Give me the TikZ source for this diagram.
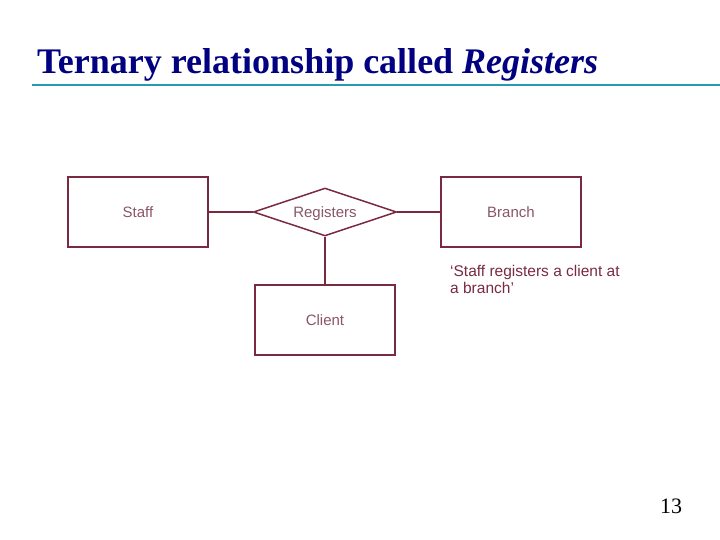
\documentclass[tikz,border=0pt]{standalone}
\usepackage{fontspec}
\setmainfont{Liberation Serif}
\setsansfont{Liberation Sans}
\usetikzlibrary{shapes.geometric}
\definecolor{ermaroon}{HTML}{7A2A40}
\definecolor{ertext}{HTML}{8A5566}
\definecolor{titlenavy}{HTML}{000080}
\definecolor{ruleteal}{HTML}{2A98B0}

\begin{document}
\begin{tikzpicture}[
  x=1bp, y=-1bp,
  ent/.style={draw=ermaroon, line width=1.5bp, minimum width=140bp, minimum height=70bp,
              inner sep=0pt, font=\sffamily\fontsize{15bp}{17bp}\selectfont, text=ertext},
  rel/.style={draw=ermaroon, line width=1.5bp, diamond, aspect=3, minimum width=143bp,
              minimum height=48bp, inner sep=0pt, text depth=0pt,
              font=\sffamily\fontsize{15bp}{17bp}\selectfont, text=ertext},
  lnk/.style={draw=ermaroon, line width=1.8bp}
]
\useasboundingbox (0,0) rectangle (720,540);

% ---------- slide title ----------
\node[anchor=base west, inner sep=0pt, text=titlenavy,
      font=\bfseries\fontsize{36bp}{40bp}\selectfont] (title) at (37,74)
  {Ternary relationship called \textit{Registers}};
\coordinate (rulel) at (32,85);
\coordinate (ruler) at (720,85);
\draw[ruleteal, line width=2bp] (rulel) -- (ruler);

% ---------- entities and relationship ----------
\node[ent] (staff)  at (138,212) {Staff};
\node[rel] (reg)    at (325,212) {Registers};
\node[ent] (branch) at (511,212) {Branch};
\node[ent] (client) at (325,320) {Client};

\draw[lnk] (staff.east) -- (reg.west);
\draw[lnk] (reg.east) -- (branch.west);
\draw[lnk] (reg.south) -- (client.north);

% ---------- note ----------
\node[anchor=north west, inner sep=0pt, align=left, text=ermaroon,
      font=\sffamily\fontsize{15.5bp}{17bp}\selectfont] (note) at (450,265)
  {`Staff registers a client at\\a branch'};

% ---------- page number ----------
\node[anchor=base, inner sep=0pt, font=\fontsize{22bp}{24bp}\selectfont] (pnum) at (671,513) {13};
\end{tikzpicture}
\end{document}
